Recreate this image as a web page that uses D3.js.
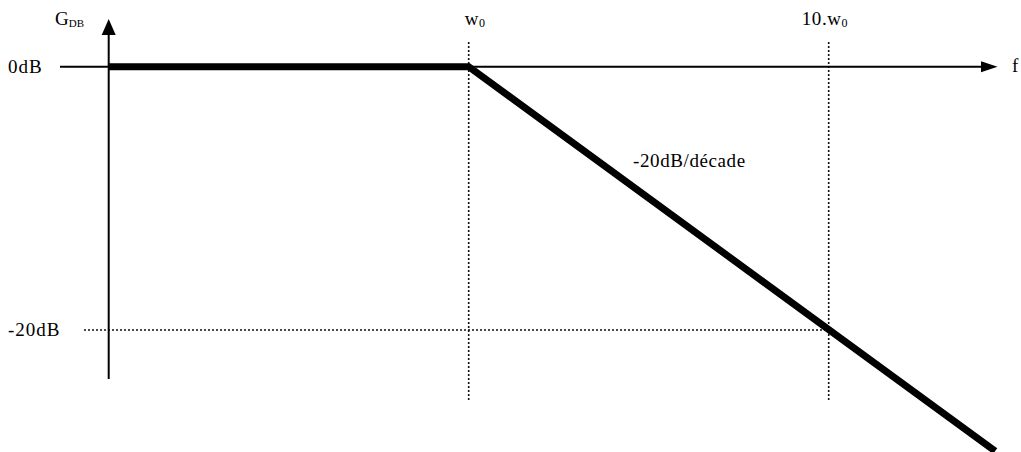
<!DOCTYPE html>
<html>
<head>
<meta charset="utf-8">
<script src="https://cdn.jsdelivr.net/npm/d3@7"></script>
<style>
  html, body { margin: 0; padding: 0; background: #fff; }
  svg { display: block; font-family: "Liberation Serif", "Times New Roman", serif; }
</style>
</head>
<body>
<svg id="chart" width="1021" height="452"></svg>
<script>
// Asymptotic Bode magnitude of a first-order low-pass filter
const freqRatio = [0.1, 1, 29];             // f / w0
const gainDb    = [0, 0, -29.2];            // asymptote gain (dB)
const refFreqs  = [1, 10];                  // marked frequencies (x w0)
const refLabels = [["w", "0"], ["10.w", "0"]];
const refGain   = [-20];                    // marked gain level
const yTickLabels = ["0dB", "-20dB"];
const yTickValues = [0, -20];
const slopeLabel = "-20dB/décade";

const svg = d3.select("#chart");

// log frequency axis: one decade spans 360 px
const x = d3.scaleLog().domain([0.1, 10]).range([108.7, 828.7]);
const y = d3.scaleLinear().domain([0, -20]).range([66.7, 330]);

const axisX0 = x(0.1);
const axisY0 = y(0);

// dotted reference lines
const dotted = svg.append("g")
  .attr("stroke", "#111").attr("stroke-width", 1.6).attr("stroke-dasharray", "2,2");
refFreqs.forEach(f => {
  dotted.append("line")
    .attr("x1", x(f)).attr("x2", x(f))
    .attr("y1", 42).attr("y2", 400);
});
refGain.forEach(g => {
  dotted.append("line")
    .attr("x1", 84).attr("x2", x(10))
    .attr("y1", y(g)).attr("y2", y(g));
});

// axes
svg.append("line")
  .attr("x1", 60).attr("x2", 982).attr("y1", axisY0).attr("y2", axisY0)
  .attr("stroke", "#000").attr("stroke-width", 2);
svg.append("path")
  .attr("d", `M997.5,${axisY0} L981,${axisY0 - 5.5} L981,${axisY0 + 5.5} Z`)
  .attr("fill", "#000");
svg.append("line")
  .attr("x1", axisX0).attr("x2", axisX0).attr("y1", 34).attr("y2", 379)
  .attr("stroke", "#000").attr("stroke-width", 2);
svg.append("path")
  .attr("d", `M${axisX0},19 L${axisX0 - 7},35 L${axisX0 + 7},35 Z`)
  .attr("fill", "#000");

// asymptote
const pts = freqRatio.map((f, i) => [x(f), y(gainDb[i])]);
svg.append("path")
  .attr("d", d3.line()(pts))
  .attr("fill", "none").attr("stroke", "#000")
  .attr("stroke-width", 7).attr("stroke-linejoin", "miter").attr("stroke-linecap", "butt");

// text
const fs = 19;
const txt = svg.append("g").attr("fill", "#000").attr("font-size", fs);

yTickLabels.forEach((t, i) => {
  txt.append("text").attr("x", 8).attr("y", y(yTickValues[i]) + 6)
    .attr("letter-spacing", 1).text(t);
});

refFreqs.forEach((f, i) => {
  const t = txt.append("text").attr("y", 25)
    .attr("x", i === 0 ? x(f) - 4 : x(f) - 27)
    .attr("letter-spacing", 0.6);
  t.append("tspan").text(refLabels[i][0]);
  t.append("tspan").attr("font-size", 12).attr("dy", 2).text(refLabels[i][1]);
});

const g = txt.append("text").attr("x", 55).attr("y", 25);
g.append("tspan").text("G");
g.append("tspan").attr("font-size", 11).attr("dy", 2).text("DB");

txt.append("text").attr("x", 1012).attr("y", 72).text("f");

txt.append("text").attr("x", 633).attr("y", 167).attr("letter-spacing", 0.6).text(slopeLabel);
</script>
</body>
</html>
